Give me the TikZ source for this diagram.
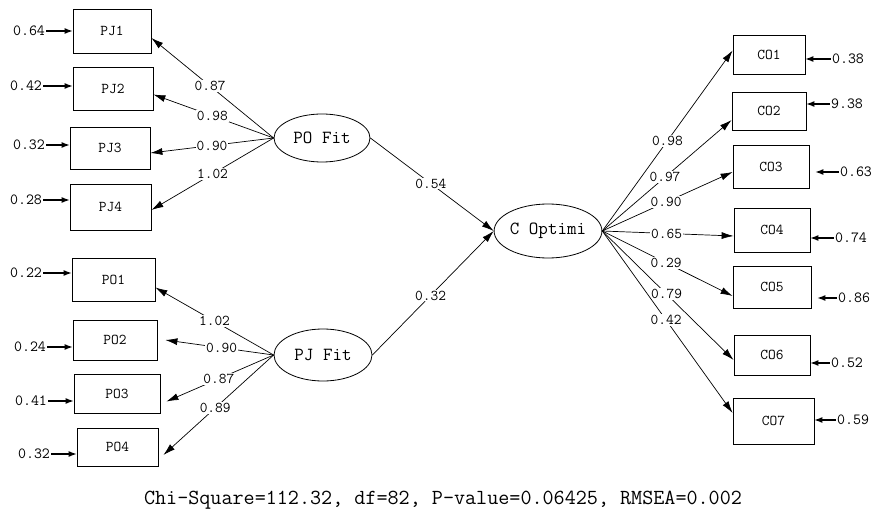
\documentclass[tikz,border=0pt]{standalone}
\usetikzlibrary{arrows.meta,calc,shapes.geometric}
\begin{document}
\begin{tikzpicture}[x=1pt,y=-1pt,
  box/.style={draw,rectangle,line width=0.8pt,inner sep=0pt,font=\ttfamily\fontsize{15}{15}\selectfont},
  lat/.style={draw,ellipse,line width=0.8pt,inner sep=0pt,font=\ttfamily\fontsize{18.5}{18.5}\selectfont},
  lab/.style={fill=white,inner sep=1pt,font=\ttfamily\fontsize{15}{15}\selectfont},
  err/.style={inner sep=1pt,font=\ttfamily\fontsize{15.5}{15.5}\selectfont},
  arr/.style={line width=0.7pt,-{Latex[length=12pt,width=7pt]}},
  earr/.style={line width=1.1pt,-{Latex[length=8pt,width=6pt]}}]
\useasboundingbox (0,0) rectangle (874,521);
\fill[white] (0,0) rectangle (874,521);

% left boxes
\node[box,minimum width=78pt,minimum height=44pt] (PJ1) at (112,31) {PJ1};
\node[box,minimum width=80pt,minimum height=43pt] (PJ2) at (113,88.5) {PJ2};
\node[box,minimum width=80pt,minimum height=42pt] (PJ3) at (110,148) {PJ3};
\node[box,minimum width=81pt,minimum height=46pt] (PJ4) at (110.5,207) {PJ4};
\node[box,minimum width=83pt,minimum height=43pt] (PO1) at (113.5,279.5) {PO1};
\node[box,minimum width=84pt,minimum height=40pt] (PO2) at (115,340) {PO2};
\node[box,minimum width=86pt,minimum height=39pt] (PO3) at (117,393.5) {PO3};
\node[box,minimum width=81pt,minimum height=38pt] (PO4) at (117.5,447) {PO4};

% right boxes
\node[box,minimum width=72pt,minimum height=39pt] (CO1) at (769,54.5) {CO1};
\node[box,minimum width=74pt,minimum height=38pt] (CO2) at (769,111) {CO2};
\node[box,minimum width=76pt,minimum height=43pt] (CO3) at (771,166.5) {CO3};
\node[box,minimum width=76pt,minimum height=44pt] (CO4) at (772,230) {CO4};
\node[box,minimum width=78pt,minimum height=42pt] (CO5) at (772,287) {CO5};
\node[box,minimum width=76pt,minimum height=40pt] (CO6) at (772,355) {CO6};
\node[box,minimum width=81pt,minimum height=46pt] (CO7) at (773.5,421) {CO7};

% latent variables
\node[lat,minimum width=96pt,minimum height=48pt] (POF) at (322,138) {PO Fit};
\node[lat,minimum width=98pt,minimum height=52pt] (PJF) at (323,355) {PJ Fit};
\node[lat,minimum width=99pt,minimum height=54pt] (COP) at (548,231) {C Optimi};

% loadings PO Fit
\draw[arr] (POF.west) -- node[lab,pos=0.52]{0.87} ([yshift=-7pt]PJ1.east);
\draw[arr] (POF.west) -- node[lab,pos=0.51]{0.98} ([yshift=-6pt]PJ2.east);
\draw[arr] (POF.west) -- node[lab,pos=0.5]{0.90} ([yshift=-5pt]PJ3.east);
\draw[arr] (POF.west) -- node[lab,pos=0.5]{1.02} ([yshift=-3pt]PJ4.east);

% loadings PJ Fit
\draw[arr] (PJF.west) -- node[lab,pos=0.5]{1.02} ([yshift=-8pt]PO1.east);
\draw[arr] (PJF.west) -- node[lab,pos=0.48]{0.90} ([xshift=8pt]PO2.east);
\draw[arr] (PJF.west) -- node[lab,pos=0.51]{0.87} ([xshift=6pt,yshift=-8pt]PO3.east);
\draw[arr] (PJF.west) -- node[lab,pos=0.53]{0.89} ([xshift=5pt,yshift=-8pt]PO4.east);

% structural paths
\draw[arr] (POF.east) -- node[lab,pos=0.49]{0.54} (COP.west);
\draw[arr] (PJF.east) -- node[lab,pos=0.48]{0.32} (COP.west);

% loadings C Optimi
\draw[arr] (COP.east) -- node[lab,pos=0.5]{0.98} ([yshift=4pt]CO1.west);
\draw[arr] (COP.east) -- node[lab,pos=0.485]{0.97} ([yshift=-9pt]CO2.west);
\draw[arr] (COP.east) -- node[lab,pos=0.49]{0.90} ([yshift=-5.5pt]CO3.west);
\draw[arr] (COP.east) -- node[lab,pos=0.49]{0.65} ([yshift=-6pt]CO4.west);
\draw[arr] (COP.east) -- node[lab,pos=0.49]{0.29} ([yshift=-9pt]CO5.west);
\draw[arr] (COP.east) -- node[lab,pos=0.49]{0.79} ([yshift=-5pt]CO6.west);
\draw[arr] (COP.east) -- node[lab,pos=0.49]{0.42} ([yshift=8pt]CO7.west);

% error terms left
\node[err] (e1) at (29,31) {0.64};
\node[err] (e2) at (26,86) {0.42};
\node[err] (e3) at (29,145) {0.32};
\node[err] (e4) at (26,200) {0.28};
\node[err] (e5) at (26,273) {0.22};
\node[err] (e6) at (30,347) {0.24};
\node[err] (e7) at (31,401) {0.41};
\node[err] (e8) at (34,454) {0.32};
\draw[earr] (e1.east) -- (e1.east -| PJ1.west);
\draw[earr] (e2.east) -- (e2.east -| PJ2.west);
\draw[earr] (e3.east) -- (e3.east -| PJ3.west);
\draw[earr] (e4.east) -- (e4.east -| PJ4.west);
\draw[earr] (e5.east) -- (e5.east -| PO1.west);
\draw[earr] (e6.east) -- (e6.east -| PO2.west);
\draw[earr] (e7.east) -- (e7.east -| PO3.west);
\draw[earr] (e8.east) -- (e8.east -| PO4.west);

% error terms right
\node[err] (f1) at (848,59) {0.38};
\node[err] (f2) at (847,104) {9.38};
\node[err] (f3) at (856,172) {0.63};
\node[err] (f4) at (851,238) {0.74};
\node[err] (f5) at (854,298) {0.86};
\node[err] (f6) at (847,363) {0.52};
\node[err] (f7) at (853,420) {0.59};
\draw[earr] (f1.west) -- (f1.west -| CO1.east);
\draw[earr] (f2.west) -- (f2.west -| CO2.east);
\draw[earr] (f3.west) -- ([xshift=6pt]f3.west -| CO3.east);
\draw[earr] (f4.west) -- (f4.west -| CO4.east);
\draw[earr] (f5.west) -- ([xshift=6pt]f5.west -| CO5.east);
\draw[earr] (f6.west) -- (f6.west -| CO6.east);
\draw[earr] (f7.west) -- (f7.west -| CO7.east);

% fit statistics
\node[font=\ttfamily\fontsize{21.5}{21.5}\selectfont,inner sep=0pt] (fit) at (443,500) {Chi-Square=112.32, df=82, P-value=0.06425, RMSEA=0.002};
\end{tikzpicture}
\end{document}
